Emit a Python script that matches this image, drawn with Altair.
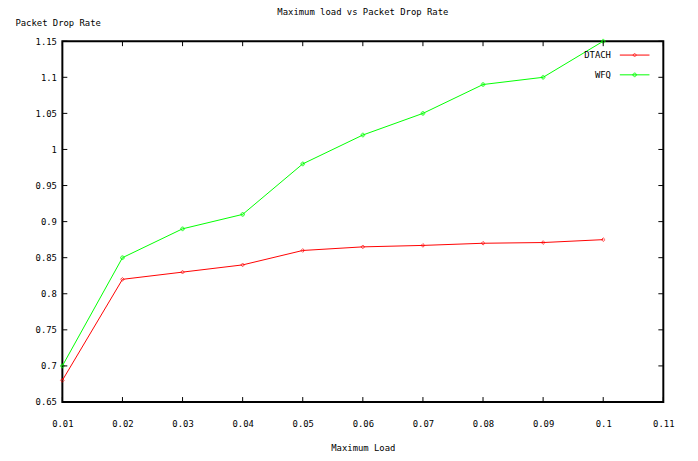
import altair as alt
import pandas as pd

loads = [0.01, 0.02, 0.03, 0.04, 0.05, 0.06, 0.07, 0.08, 0.09, 0.10]
dtach = [0.68, 0.82, 0.83, 0.84, 0.86, 0.865, 0.867, 0.87, 0.871, 0.875]
wfq = [0.70, 0.85, 0.89, 0.91, 0.98, 1.02, 1.05, 1.09, 1.10, 1.15]
series_names = ["DTACH", "WFQ"]
series_colors = ["#ff0000", "#00ff00"]
series_shapes = ["diamond", "cross"]
x_ticks = [0.01, 0.02, 0.03, 0.04, 0.05, 0.06, 0.07, 0.08, 0.09, 0.10, 0.11]
y_ticks = [0.65, 0.7, 0.75, 0.8, 0.85, 0.9, 0.95, 1.0, 1.05, 1.1, 1.15]

W, H = 608, 365
FONT = "DejaVu Sans Mono"
FS = 9

df = pd.DataFrame(
    {"load": loads * 2, "rate": dtach + wfq,
     "series": ["DTACH"] * len(loads) + ["WFQ"] * len(loads)}
)
xt = pd.DataFrame({"load": x_ticks})
yt = pd.DataFrame({"rate": y_ticks})

xs = alt.Scale(domain=[0.01, 0.11], nice=False, zero=False)
ys = alt.Scale(domain=[0.65, 1.15], nice=False, zero=False)
cs = alt.Scale(domain=series_names, range=series_colors)
ss = alt.Scale(domain=series_names, range=series_shapes)

xax = alt.Axis(values=x_ticks, format="~g", grid=False, domain=False, ticks=False,
               labelPadding=18, labelFlush=False, labelFont=FONT, labelFontSize=FS, labelColor="black",
               title="Maximum Load", titleFont=FONT, titleFontSize=FS, titleFontWeight="normal",
               titleColor="black", titleX=W / 2, titleY=46, titleBaseline="middle")
yax = alt.Axis(values=y_ticks, format="~g", grid=False, domain=False, ticks=False,
               labelPadding=6, labelFlush=False, labelFont=FONT, labelFontSize=FS, labelColor="black",
               title="Packet Drop Rate", titleFont=FONT, titleFontSize=FS, titleFontWeight="normal",
               titleColor="black", titleAngle=0, titleAlign="left", titleBaseline="middle",
               titleX=-48, titleY=-19)

X = alt.X("load:Q", scale=xs, axis=xax)
Y = alt.Y("rate:Q", scale=ys, axis=yax)

lines = alt.Chart(df).mark_line(strokeWidth=1).encode(
    x=X, y=Y, color=alt.Color("series:N", scale=cs, legend=None),
)
pts = alt.Chart(df).mark_point(size=14, strokeWidth=1, filled=False).encode(
    x=X, y=Y,
    color=alt.Color("series:N", scale=cs, legend=None),
    shape=alt.Shape("series:N", scale=ss, legend=None),
)

tick_style = dict(color="black", strokeWidth=1)
bt = alt.Chart(xt).mark_rule(**tick_style).encode(x=X, y=alt.value(H), y2=alt.value(H - 5))
tt = alt.Chart(xt).mark_rule(**tick_style).encode(x=X, y=alt.value(0), y2=alt.value(5))
lt = alt.Chart(yt).mark_rule(**tick_style).encode(y=Y, x=alt.value(0), x2=alt.value(5))
rt = alt.Chart(yt).mark_rule(**tick_style).encode(y=Y, x=alt.value(W), x2=alt.value(W - 5))

legend_layers = []
for i, name in enumerate(series_names):
    ly = 14 + 20 * i
    one = pd.DataFrame({"series": [name]})
    legend_layers.append(alt.Chart(one).mark_text(
        align="right", baseline="middle", font=FONT, fontSize=FS, color="black"
    ).encode(x=alt.value(555), y=alt.value(ly), text="series:N"))
    legend_layers.append(alt.Chart(one).mark_rule(strokeWidth=1, color=series_colors[i]).encode(
        x=alt.value(564), x2=alt.value(594), y=alt.value(ly)))
    legend_layers.append(alt.Chart(one).mark_point(
        size=14, strokeWidth=1, color=series_colors[i], shape=series_shapes[i]
    ).encode(x=alt.value(579), y=alt.value(ly)))

chart = alt.layer(lines, pts, bt, tt, lt, rt, *legend_layers).properties(
    width=W, height=H,
    autosize=alt.AutoSizeParams(type="none"),
    padding={"left": 55, "top": 31, "right": 27, "bottom": 50},
    title=alt.TitleParams("Maximum load vs Packet Drop Rate", font=FONT, fontSize=FS, fontWeight="normal",
                          color="black", anchor="middle", offset=2),
    background="white",
).configure_view(stroke="black", strokeWidth=2)

chart.save("out.html", embed_options={"renderer": "svg", "actions": False})
